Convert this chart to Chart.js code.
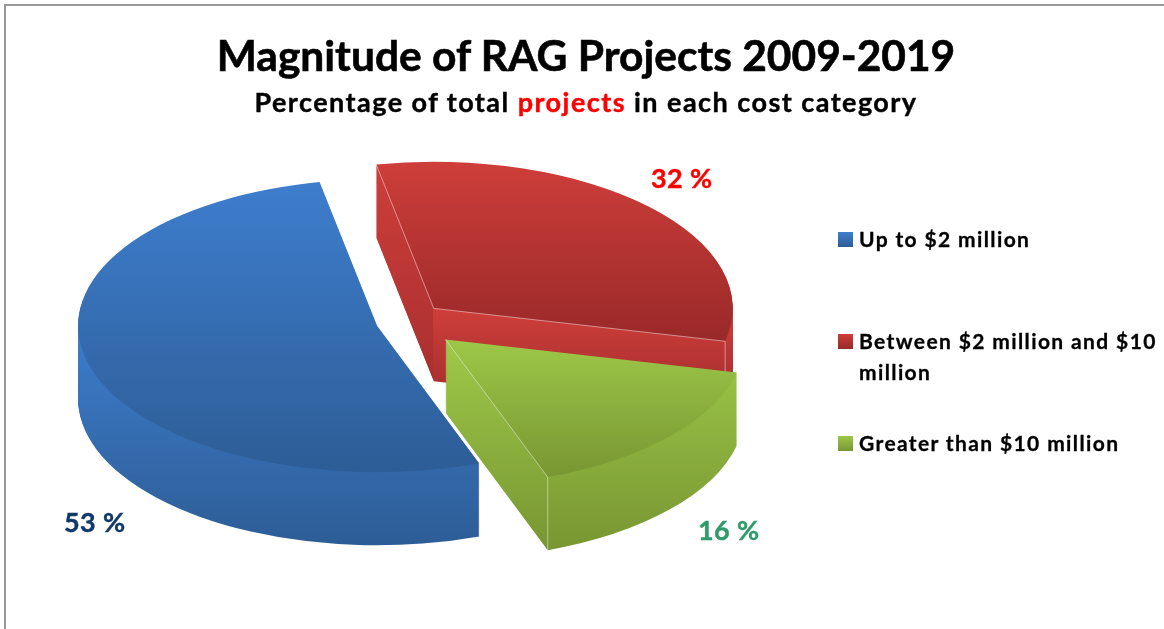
<!DOCTYPE html>
<html>
<head>
<meta charset="utf-8">
<title>Magnitude of RAG Projects 2009-2019</title>
<script src="https://cdn.jsdelivr.net/npm/chart.js@4"></script>
<style>
  html, body { margin: 0; background: #fff; overflow: hidden; }
  #page { position: relative; width: 1164px; height: 629px; font-family: Lato, sans-serif; font-weight: 700; color: #000; }
  #frame { position: absolute; left: 4px; top: 4px; right: 0; bottom: 0; border-left: 2px solid #999; border-top: 2px solid #999; }
  canvas { position: absolute; left: 0; top: 0; }
  .text { position: absolute; white-space: nowrap; }
  #title { left: 0; width: 1172px; top: 29px; text-align: center; font-size: 42.5px; line-height: 52px; -webkit-text-stroke: 0.6px #000; }
  #subtitle { left: 0; width: 1172px; top: 85px; text-align: center; font-size: 27px; line-height: 34px; letter-spacing: 1.45px; -webkit-text-stroke: 0.4px; }
  #subtitle span { color: #ff0000; }
  .swatch { position: absolute; left: 838px; width: 15px; height: 15px; }
  .legend-text { left: 859px; width: 305px; white-space: normal; font-size: 21px; line-height: 31px; letter-spacing: 1.38px; -webkit-text-stroke: 0.3px; }
  .pct { font-size: 27px; line-height: 30px; letter-spacing: 0.4px; -webkit-text-stroke: 0.4px; }
</style>
</head>
<body>
<div id="page">
  <div id="frame"></div>
  <canvas id="pie" width="1164" height="629"></canvas>
  <div class="text" id="title">Magnitude of RAG Projects 2009-2019</div>
  <div class="text" id="subtitle">Percentage of total <span>projects</span> in each cost category</div>
  <div id="legend"></div>
  <div id="pcts"></div>
</div>
<script>
const categories = ["Up to $2 million", "Between $2 million and $10 million", "Greater than $10 million"];
const shares = [53, 32, 16];

// look of the fake 3D pie
const squash = 0.49;
const depth = 73;
const pullOut = [29, 40, 54];
const drawOrder = [1, 0, 2];
const lightColors = ["#3e7ece", "#ce3e3a", "#9dc848"];
const darkColors = ["#2d5d96", "#962828", "#789632"];
const topRange = [[178, 472], [162, 350], [339, 477]];
const wallRangeLeft = [[320, 545], [162, 385], [345, 549]];
const wallRangeRight = [[320, 545], [310, 390], [345, 549]];
const wallDarken = [darkColors[0], "#a82f2f", darkColors[2]];
const edgeLines = [[], ["start", "end"], ["end"]];
const pctColors = ["#10386a", "#ff0000", "#2f9b6c"];
const pctPos = [[64, 507], [651, 163], [698, 515]];
const legendY = [232, 334, 436];

function shade(ctx, arc, range, c0, c1, shiftY) {
  const toArc = y => arc.y + (y - arc.y - shiftY) / squash;
  const g = ctx.createLinearGradient(0, toArc(range[0]), 0, toArc(range[1]));
  g.addColorStop(0, c0);
  g.addColorStop(1, c1);
  return g;
}

function drawSlice(ctx, arc, fill, dx, dy) {
  ctx.save();
  ctx.translate(dx, arc.y + dy);
  ctx.scale(1, squash);
  ctx.translate(0, -arc.y);
  const saved = arc.options;
  arc.options = Object.assign({}, saved, { backgroundColor: fill });
  arc.draw(ctx);
  arc.options = saved;
  ctx.restore();
}

const pie3d = {
  id: "pie3d",
  beforeDatasetDraw(chart) {
    const ctx = chart.ctx;
    const arcs = chart.getDatasetMeta(0).data;
    drawOrder.forEach(i => {
      const arc = arcs[i];
      const mid = (arc.startAngle + arc.endAngle) / 2;
      const dx = Math.cos(mid) * pullOut[i];
      const dy = Math.sin(mid) * pullOut[i] * squash;
      const apexX = arc.x + dx;

      // side walls: the slice stacked downwards, split at the apex
      [[0, apexX, wallRangeLeft[i]], [apexX, chart.width, wallRangeRight[i]]].forEach(part => {
        ctx.save();
        ctx.beginPath();
        ctx.rect(part[0], 0, part[1] - part[0], chart.height);
        ctx.clip();
        for (let k = depth; k > 0; k--) {
          const fill = shade(ctx, arc, part[2], lightColors[i], wallDarken[i], dy + k);
          drawSlice(ctx, arc, fill, dx, dy + k);
        }
        ctx.restore();
      });

      drawSlice(ctx, arc, shade(ctx, arc, topRange[i], lightColors[i], darkColors[i], dy), dx, dy);

      // thin light seams on the cut faces
      const apexY = arc.y + dy;
      ctx.save();
      ctx.strokeStyle = "rgba(255,255,255,0.45)";
      ctx.lineWidth = 1;
      ctx.beginPath();
      edgeLines[i].forEach(name => {
        const a = name === "start" ? arc.startAngle : arc.endAngle;
        const rimX = apexX + Math.cos(a) * arc.outerRadius;
        const rimY = apexY + Math.sin(a) * arc.outerRadius * squash;
        ctx.moveTo(apexX, apexY);
        ctx.lineTo(rimX, rimY);
        if (name === "end") {
          ctx.moveTo(rimX, rimY);
          ctx.lineTo(rimX, rimY + depth);
        }
      });
      ctx.stroke();
      ctx.restore();
    });
    return false;
  }
};

new Chart(document.getElementById("pie"), {
  type: "pie",
  data: {
    labels: categories,
    datasets: [{ data: shares, backgroundColor: lightColors, borderWidth: 0 }]
  },
  options: {
    responsive: false,
    animation: false,
    events: [],
    rotation: 160,
    radius: 299,
    layout: { padding: { top: 15, right: 354 } },
    plugins: { legend: { display: false }, title: { display: false }, tooltip: { enabled: false } }
  },
  plugins: [pie3d]
});

const legend = document.getElementById("legend");
categories.forEach((name, i) => {
  const box = document.createElement("div");
  box.className = "swatch";
  box.style.top = legendY[i] + "px";
  box.style.background = `linear-gradient(${lightColors[i]}, ${darkColors[i]})`;
  legend.appendChild(box);
  const txt = document.createElement("div");
  txt.className = "text legend-text";
  txt.style.top = (legendY[i] - 9) + "px";
  txt.textContent = name;
  legend.appendChild(txt);
});

const pcts = document.getElementById("pcts");
shares.forEach((v, i) => {
  const el = document.createElement("div");
  el.className = "text pct";
  el.style.left = pctPos[i][0] + "px";
  el.style.top = pctPos[i][1] + "px";
  el.style.color = pctColors[i];
  el.textContent = v + " %";
  pcts.appendChild(el);
});
</script>
</body>
</html>
